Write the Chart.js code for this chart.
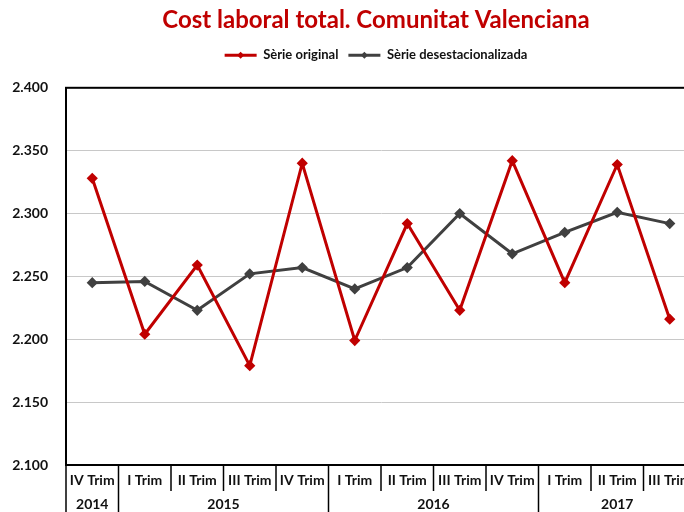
<!DOCTYPE html>
<html>
<head>
<meta charset="utf-8">
<script src="https://cdn.jsdelivr.net/npm/chart.js@4.4.1/dist/chart.umd.min.js"></script>
<style>
  html, body { margin: 0; padding: 0; background: #fff; overflow: hidden; }
  #wrap { width: 752px; height: 512px; position: relative; }
</style>
</head>
<body>
<div id="wrap"><canvas id="chart"></canvas></div>
<script>
// Chart data
const categories = ['IV Trim', 'I Trim', 'II Trim', 'III Trim', 'IV Trim', 'I Trim', 'II Trim', 'III Trim', 'IV Trim', 'I Trim', 'II Trim', 'III Trim'];
const yearOfCategory = ['2014', '2015', '2015', '2015', '2015', '2016', '2016', '2016', '2016', '2017', '2017', '2017'];
const serieOriginal = [2328, 2204, 2259, 2179, 2340, 2199, 2292, 2223, 2342, 2245, 2339, 2216];
const serieDesestacionalitzada = [2245, 2246, 2223, 2252, 2257, 2240, 2257, 2300, 2268, 2285, 2301, 2292];
const yMin = 2100;
const yMax = 2400;
const yStep = 50;

const RED = '#c00000';
const GRAY = '#404040';
const FONT = 'Lato, "Open Sans", sans-serif';

function formatThousands(v) {
  return String(v).replace(/\B(?=(\d{3})+$)/g, '.');
}

// Extra room between the legend and the plot
const legendSpacing = {
  id: 'legendSpacing',
  beforeInit(chart) {
    const fit = chart.legend.fit;
    chart.legend.fit = function () {
      fit.bind(chart.legend)();
      this.height += 16;
    };
  }
};

// Two-level category axis (quarter / year) drawn as boxes under the plot
const categoryBoxes = {
  id: 'categoryBoxes',
  afterDraw(chart) {
    const { ctx, chartArea } = chart;
    const x = chart.scales.x;
    const bottom = chartArea.bottom;
    const rowH = 26;
    const half = (x.getPixelForValue(1) - x.getPixelForValue(0)) / 2;

    ctx.save();
    ctx.strokeStyle = '#000';
    ctx.fillStyle = '#111';
    ctx.textAlign = 'center';
    ctx.textBaseline = 'middle';

    // frame round the plot area
    ctx.lineWidth = 2;
    ctx.strokeRect(chartArea.left, chartArea.top, chartArea.width, chartArea.height);
    ctx.lineWidth = 1.5;

    ctx.font = 'bold 14px ' + FONT;
    categories.forEach((label, i) => {
      const cx = x.getPixelForValue(i);
      const left = cx - half;
      const newYear = i === 0 || yearOfCategory[i] !== yearOfCategory[i - 1];
      ctx.beginPath();
      ctx.moveTo(left, bottom);
      ctx.lineTo(left, newYear ? chart.height : bottom + rowH);
      ctx.stroke();
      ctx.fillText(label, cx, bottom + rowH / 2 + 2);
    });

    // year groups
    ctx.font = 'bold 14px ' + FONT;
    let start = 0;
    for (let i = 1; i <= categories.length; i++) {
      if (i === categories.length || yearOfCategory[i] !== yearOfCategory[start]) {
        const cx = (x.getPixelForValue(start) + x.getPixelForValue(i - 1)) / 2;
        ctx.fillText(yearOfCategory[start], cx, bottom + rowH + 13);
        start = i;
      }
    }

    // diamond markers on the legend lines
    const legend = chart.legend;
    if (legend && legend.legendHitBoxes) {
      legend.legendHitBoxes.forEach((box, i) => {
        const ds = chart.data.datasets[i];
        const boxW = legend.options.labels.boxWidth;
        const mx = box.left + boxW / 2;
        const my = box.top + box.height / 2;
        ctx.fillStyle = ds.borderColor;
        ctx.beginPath();
        ctx.moveTo(mx, my - 3.5);
        ctx.lineTo(mx + 3.5, my);
        ctx.lineTo(mx, my + 3.5);
        ctx.lineTo(mx - 3.5, my);
        ctx.closePath();
        ctx.fill();
      });
    }
    ctx.restore();
  }
};

new Chart(document.getElementById('chart'), {
  type: 'line',
  data: {
    labels: categories,
    datasets: [{
      label: 'Sèrie original',
      data: serieOriginal,
      borderColor: RED,
      backgroundColor: RED,
      borderWidth: 3,
      pointStyle: 'rectRot',
      pointRadius: 3.5,
      pointBackgroundColor: RED,
      pointBorderColor: RED,
      tension: 0
    }, {
      label: 'Sèrie desestacionalizada',
      data: serieDesestacionalitzada,
      borderColor: GRAY,
      backgroundColor: GRAY,
      borderWidth: 3,
      pointStyle: 'rectRot',
      pointRadius: 3.5,
      pointBackgroundColor: GRAY,
      pointBorderColor: GRAY,
      tension: 0
    }]
  },
  options: {
    responsive: true,
    maintainAspectRatio: false,
    animation: false,
    layout: { padding: { top: 0, left: 0, right: 0, bottom: 0 } },
    plugins: {
      title: {
        display: true,
        text: 'Cost laboral total. Comunitat Valenciana',
        color: RED,
        font: { family: FONT, size: 24, weight: 'bold' },
        padding: { top: 6, bottom: 4 }
      },
      legend: {
        position: 'top',
        labels: {
          boxWidth: 32,
          boxHeight: 3,
          padding: 10,
          color: '#111',
          font: { family: FONT, size: 13, weight: 'bold' },
          generateLabels(chart) {
            const items = Chart.defaults.plugins.legend.labels.generateLabels(chart);
            items.forEach(item => { item.lineWidth = 0; });
            return items;
          }
        }
      },
      tooltip: { enabled: false }
    },
    scales: {
      x: {
        offset: true,
        grid: { display: false },
        ticks: { display: false },
        border: { display: true, color: '#000', width: 2 },
        afterFit(scale) { scale.height = 47; }
      },
      y: {
        min: yMin,
        max: yMax,
        ticks: {
          stepSize: yStep,
          padding: 18,
          color: '#111',
          font: { family: FONT, size: 14, weight: 'bold' },
          callback: v => formatThousands(v)
        },
        grid: { color: '#c8c8c8', lineWidth: 1, drawTicks: false },
        border: { display: true, color: '#000', width: 2 },
        afterFit(scale) { scale.width = 66; }
      },
      yRight: {
        position: 'right',
        display: true,
        ticks: { display: false },
        grid: { display: false },
        border: { display: false },
        afterFit(scale) { scale.width = 56; }
      }
    }
  },
  plugins: [legendSpacing, categoryBoxes]
});
</script>
</body>
</html>
